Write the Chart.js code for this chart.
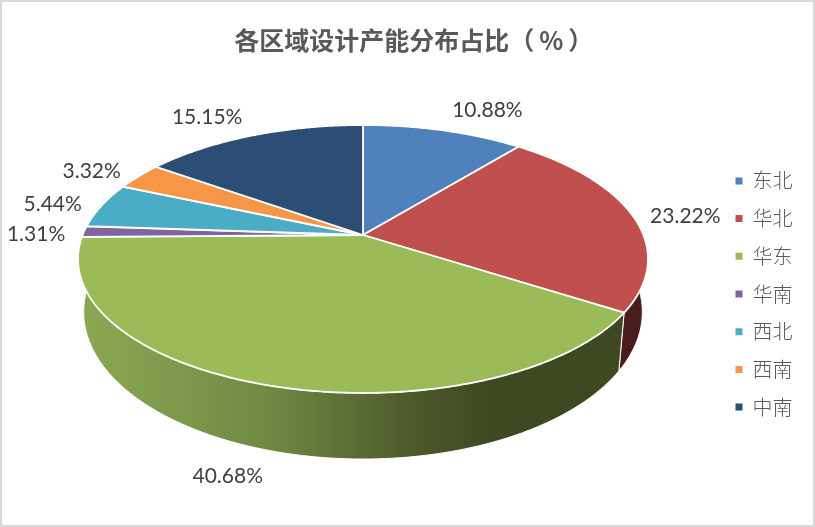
<!DOCTYPE html>
<html>
<head>
<meta charset="utf-8">
<style>
  html, body { margin: 0; padding: 0; background: #fff; }
  #chart { display: block; outline: 2px solid #d9d9d9; outline-offset: -2px; }
</style>
<script src="https://cdn.jsdelivr.net/npm/chart.js@4/dist/chart.umd.min.js"></script>
</head>
<body>
<canvas id="chart" width="815" height="527"></canvas>
<script>
var TITLE = '各区域设计产能分布占比（\u2009%\u2009）';
var REGIONS = ['东北', '华北', '华东', '华南', '西北', '西南', '中南'];
var SHARES = [10.88, 23.22, 40.68, 1.31, 5.44, 3.32, 15.15];
var COLORS = ['#4f81bd', '#c0504d', '#9bbb59', '#8064a2', '#4bacc6', '#f79646', '#2c4d75'];

// ── Tilted disc geometry (perspective, apex sits above ellipse centre) ──
var CX = 363, CY = 235;
var RX = 280.4, RY = 129.7, PERSP = 0.179;
var WALL_DROP = 50.7, WALL_FX = 0.98, WALL_FY = 1.097;

// label offset from the rim point at the middle of each slice
var LABEL_NUDGE = [[44, -20], [53, 1], [-42, 91], [-48, 2.5], [-49, -1], [-47, -5], [-45, -18]];

function topPoint(t) {
  var w = 1 - PERSP * Math.sin(t);
  return { x: CX + RX * Math.cos(t) / w, y: CY + RY * Math.sin(t) / w };
}

function bottomPoint(t) {
  var w = 1 - PERSP * Math.sin(t);
  return {
    x: CX + WALL_FX * RX * Math.cos(t) / w,
    y: CY + WALL_DROP + WALL_FY * RY * Math.sin(t) / w
  };
}

function rim(fn, a, b) {
  var pts = [];
  var n = Math.max(2, Math.ceil((b - a) / 0.008));
  for (var i = 0; i <= n; i++) pts.push(fn(a + (b - a) * i / n));
  return pts;
}

function wallFill(ctx, i) {
  if (i === 2) {
    var g = ctx.createLinearGradient(85, 0, 490, 0);
    g.addColorStop(0, '#8aa852');
    g.addColorStop(0.45, '#6f8a45');
    g.addColorStop(0.8, '#4d5a2a');
    g.addColorStop(1, '#3e4921');
    return g;
  }
  if (i === 1) return '#4a1d1c';
  return '#444';
}

var disc3d = {
  id: 'disc3d',
  beforeDatasetsDraw: function (chart) {
    var ctx = chart.ctx;
    var arcs = chart.getDatasetMeta(0).data;

    // side walls: only the two slices facing the viewer show one
    [1, 2].forEach(function (i) {
      var top = rim(topPoint, arcs[i].startAngle, arcs[i].endAngle);
      var bot = rim(bottomPoint, arcs[i].startAngle, arcs[i].endAngle).reverse();
      ctx.beginPath();
      top.concat(bot).forEach(function (p, k) {
        if (k === 0) ctx.moveTo(p.x, p.y); else ctx.lineTo(p.x, p.y);
      });
      ctx.closePath();
      ctx.fillStyle = wallFill(ctx, i);
      ctx.fill();
      ctx.strokeStyle = '#fff';
      ctx.lineWidth = 1;
      ctx.stroke();
    });

    // top face
    arcs.forEach(function (arc) {
      ctx.beginPath();
      ctx.moveTo(CX, CY);
      rim(topPoint, arc.startAngle, arc.endAngle).forEach(function (p) { ctx.lineTo(p.x, p.y); });
      ctx.closePath();
      ctx.fillStyle = arc.options.backgroundColor;
      ctx.fill();
      ctx.strokeStyle = '#fff';
      ctx.lineWidth = 1.8;
      ctx.stroke();
    });

    // value labels
    ctx.font = '21px Lato, sans-serif';
    ctx.fillStyle = '#404040';
    ctx.textAlign = 'center';
    ctx.textBaseline = 'middle';
    arcs.forEach(function (arc, i) {
      var p = topPoint((arc.startAngle + arc.endAngle) / 2);
      ctx.fillText(SHARES[i].toFixed(2) + '%', p.x + LABEL_NUDGE[i][0], p.y + LABEL_NUDGE[i][1]);
    });
    return false;
  }
};

new Chart(document.getElementById('chart'), {
  type: 'pie',
  plugins: [disc3d],
  data: {
    labels: REGIONS,
    datasets: [{ data: SHARES, backgroundColor: COLORS, borderWidth: 0 }]
  },
  options: {
    responsive: false,
    animation: false,
    devicePixelRatio: 1,
    layout: { padding: { top: 25, right: 12.5, bottom: 0, left: 25 } },
    plugins: {
      tooltip: { enabled: false },
      title: {
        display: true,
        text: TITLE,
        color: '#595959',
        font: { family: '"Noto Sans CJK SC", sans-serif', size: 25, weight: 'bold' },
        padding: { top: 0, bottom: 6 }
      },
      legend: {
        position: 'right',
        fullSize: false,
        labels: {
          boxWidth: 7,
          boxHeight: 7,
          padding: 17.7,
          color: '#595959',
          font: { family: '"Noto Sans CJK SC", sans-serif', size: 20, weight: '300' }
        }
      }
    }
  }
});
</script>
</body>
</html>
